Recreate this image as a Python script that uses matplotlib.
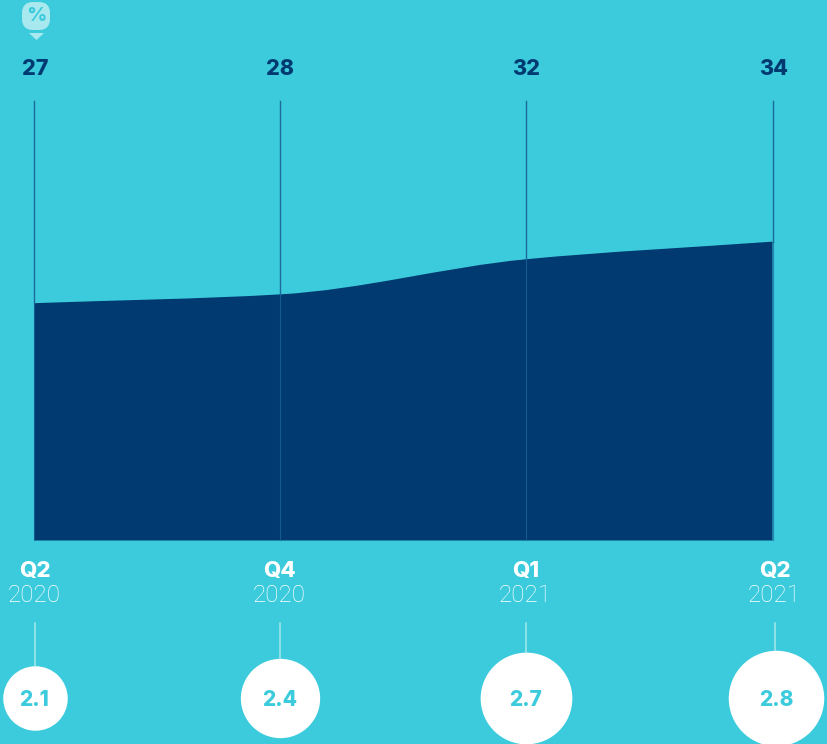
import matplotlib.pyplot as plt
import numpy as np
from matplotlib.path import Path
from matplotlib.patches import PathPatch, FancyBboxPatch, Polygon

quarters = ['Q2', 'Q4', 'Q1', 'Q2']
years = ['2020', '2020', '2021', '2021']
share = [27, 28, 32, 34]
bubble = [2.1, 2.4, 2.7, 2.8]

BG = '#3CCBDC'
DARK = '#003A70'
W, H = 827, 744


def monotone_tangents(x, y):
    # same slopes as a monotone cubic curve
    x = np.array(x, dtype=float)
    y = np.array(y, dtype=float)
    d = np.diff(y) / np.diff(x)
    m = np.zeros(len(x))
    m[0] = d[0]
    m[-1] = d[-1]
    for i in range(1, len(x) - 1):
        m[i] = 2 * d[i - 1] * d[i] / (d[i - 1] + d[i])
    return m


fig = plt.figure(figsize=(W / 100, H / 100), dpi=100, facecolor=BG)

# main chart, 34..772.5 px across, 101..540.5 px down
ax = fig.add_axes([34 / W, 1 - 540.5 / H, 738.5 / W, 439.5 / H])
ax.set_facecolor('none')
ax.set_xlim(0, 3)
ax.set_ylim(0, 50)
ax.axis('off')

xs = list(range(len(share)))
m = monotone_tangents(xs, share)
verts = [(xs[0], 0), (xs[0], share[0])]
codes = [Path.MOVETO, Path.LINETO]
for i in range(len(xs) - 1):
    verts += [(xs[i] + 1 / 3, share[i] + m[i] / 3),
              (xs[i + 1] - 1 / 3, share[i + 1] - m[i + 1] / 3),
              (xs[i + 1], share[i + 1])]
    codes += [Path.CURVE4] * 3
verts += [(xs[-1], 0), (xs[0], 0)]
codes += [Path.LINETO, Path.CLOSEPOLY]
ax.add_patch(PathPatch(Path(verts, codes), facecolor=DARK, edgecolor='none', zorder=2))

for x, v in zip(xs, share):
    ax.plot([x, x], [v, 50], color='#1B6A9C', lw=1, zorder=3, clip_on=False)
    ax.plot([x, x], [0.1, v], color='#1B6A9C', lw=0.8, alpha=0.7, zorder=3, clip_on=False)

# overlay in pixel coords for the labels and bubbles
ov = fig.add_axes([0, 0, 1, 1])
ov.set_facecolor('none')
ov.set_xlim(0, W)
ov.set_ylim(H, 0)
ov.axis('off')

top_x = [35, 280, 526, 773.5]
label_x = [34.5, 279.5, 525.5, 774.5]
stem_x = [35, 279.5, 525.5, 775]
bubble_x = [34.5, 280, 525.5, 776]
bubble_y = 698

for i in range(4):
    ov.text(top_x[i], 69, str(share[i]), color=DARK, fontsize=15.5, fontweight='heavy',
            family='Inter', ha='center', va='center')
    ov.text(label_x[i], 571, quarters[i], color='white', fontsize=16, fontweight='heavy',
            family='Inter', ha='center', va='center')
    ov.text(label_x[i], 596, years[i], color='#FFFFFF', fontsize=17.5, fontweight='light',
            family='Roboto', ha='center', va='center')
    d = np.sqrt(4096 + 7040 * (bubble[i] - 2.1)) + 0.5
    ov.plot([stem_x[i], stem_x[i]], [623, bubble_y - d / 2], color='#A5E8EE', lw=1.1, zorder=2)
    ov.scatter([bubble_x[i]], [bubble_y], s=(d * 0.72) ** 2, color='white', linewidths=0,
               zorder=3, clip_on=False)
    ov.text(bubble_x[i], 700, str(bubble[i]), color=BG, fontsize=15, fontweight='heavy',
            family='Inter', ha='center', va='center', zorder=4)

# percent marker
ov.add_patch(FancyBboxPatch((29, 9), 14, 14, boxstyle='round,pad=7,rounding_size=11',
                            facecolor='#A8E9EF', edgecolor='none'))
ov.add_patch(Polygon([(29, 33), (44, 33), (36.5, 40)], closed=True,
                     facecolor='#A8E9EF', edgecolor='none'))
ov.text(36, 16, '%', color=BG, fontsize=14.5, fontweight='bold', family='Inter',
        ha='center', va='center')

fig.savefig('out.png', dpi=100, facecolor=BG)
